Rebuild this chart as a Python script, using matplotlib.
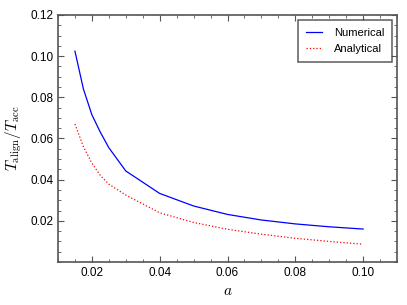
import matplotlib
matplotlib.use('Agg')
import matplotlib.pyplot as plt
from matplotlib.ticker import MultipleLocator

plt.rcParams['font.family'] = ['Liberation Sans', 'DejaVu Sans']
plt.rcParams['mathtext.fontset'] = 'cm'

# valores
a_num = [0.015, 0.0175, 0.02, 0.0225, 0.025, 0.03, 0.04, 0.05, 0.06, 0.07, 0.08, 0.09, 0.10]
t_num = [0.1024, 0.0840, 0.0715, 0.0630, 0.0555, 0.0442, 0.0333, 0.0272, 0.0231, 0.0204, 0.0185, 0.0171, 0.0160]
a_ana = [0.015, 0.0175, 0.02, 0.0225, 0.025, 0.03, 0.04, 0.05, 0.06, 0.07, 0.08, 0.09, 0.10]
t_ana = [0.067, 0.0560, 0.0480, 0.0420, 0.0378, 0.0325, 0.0239, 0.0192, 0.0159, 0.0135, 0.0115, 0.0100, 0.0086]

fig = plt.figure(figsize=(4.07, 3.05), dpi=100)
ax = fig.add_axes([0.1425, 0.141, 0.833, 0.810])

ax.plot(a_num, t_num, color='blue', lw=0.9, label='Numerical')
ax.plot(a_ana, t_ana, color='red', lw=0.9, ls=':', label='Analytical')

ax.set_xlim(0.01, 0.11)
ax.set_ylim(0.0, 0.12)
ax.xaxis.set_major_locator(MultipleLocator(0.02))
ax.xaxis.set_minor_locator(MultipleLocator(0.005))
ax.yaxis.set_major_locator(MultipleLocator(0.02))
ax.yaxis.set_minor_locator(MultipleLocator(0.005))
ax.set_xticks([0.02, 0.04, 0.06, 0.08, 0.10])
ax.set_xticklabels(['0.02', '0.04', '0.06', '0.08', '0.10'])
ax.set_yticks([0.02, 0.04, 0.06, 0.08, 0.10, 0.12])
ax.set_yticklabels(['0.02', '0.04', '0.06', '0.08', '0.10', '0.12'])
ax.tick_params(which='both', direction='in', top=True, right=True, labelsize=8.5, color='#555555')
ax.tick_params(which='major', length=4, width=0.8)
ax.tick_params(which='minor', length=2, width=0.6)
for s in ax.spines.values():
    s.set_color('#555555')
    s.set_linewidth(1.2)

ax.set_xlabel(r'$a$', fontsize=11)
ax.set_ylabel(r'$T_{\rm align}/T_{\rm acc}$', fontsize=11)

leg = ax.legend(loc='upper right', fontsize=8, fancybox=False, edgecolor='#333333',
                handlelength=1.45, handletextpad=1.05, borderpad=0.7, labelspacing=0.55,
                borderaxespad=0.45)
leg.get_frame().set_linewidth(1.1)

fig.savefig('out.png', dpi=100)
